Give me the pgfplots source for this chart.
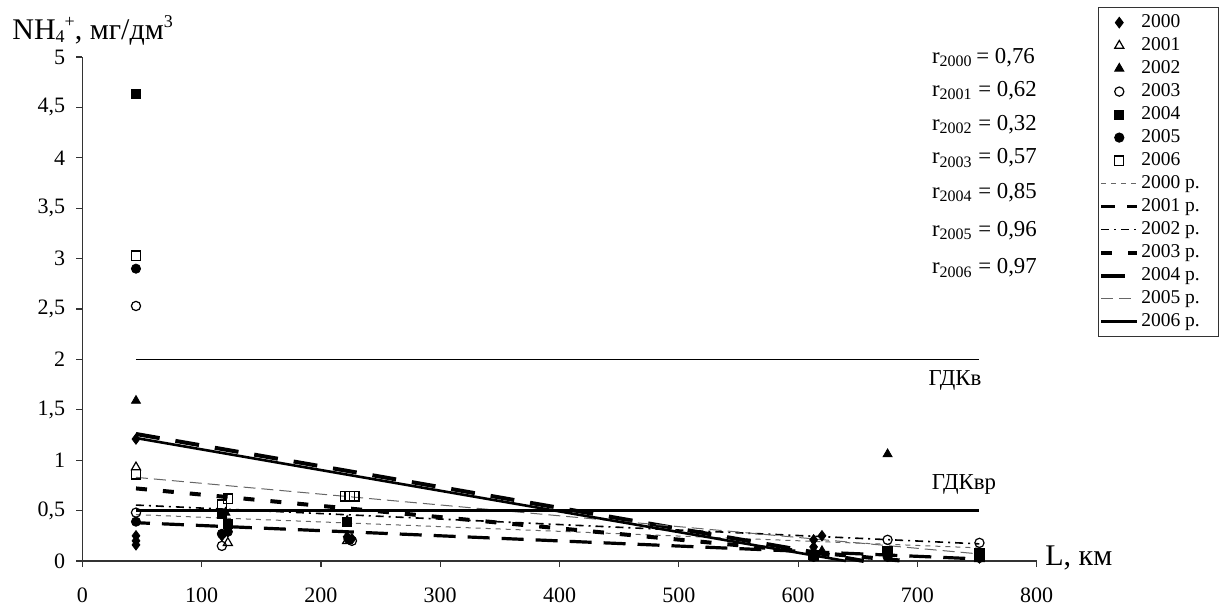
\documentclass[border=0pt]{standalone}
\usepackage{fontspec}
\setmainfont{Liberation Serif}
\usepackage{pgfplots}
\pgfplotsset{compat=1.18}
\newcommand{\lgt}[1]{\makebox[37pt][l]{#1}}
\begin{document}
\begin{tikzpicture}
\begin{axis}[name=ax, scale only axis, width=477.2pt, height=252pt,
 xmin=0, xmax=800, ymin=0, ymax=5,
 axis lines=left, axis line style={-, line width=0.6pt, black!80},
 xtick={0,100,200,300,400,500,600,700,800},
 ytick={0,0.5,1,1.5,2,2.5,3,3.5,4,4.5,5},
 tick align=outside, major tick length=3pt, tick style={black!80, line width=0.6pt},
 /pgf/number format/use comma, /pgf/number format/assume math mode=true,
 ticklabel style={font=\fontsize{11}{13}\selectfont},
 xticklabel style={yshift=-7pt}, yticklabel style={xshift=-2pt},
 clip=false,
 legend cell align=left,
 legend image code/.code={\draw[mark repeat=2,mark phase=2,#1] plot coordinates {(0pt,0pt)(9pt,0pt)(18pt,0pt)};},
 legend style={at={(rel axis cs:1.064,1.099)}, anchor=north west,
   draw=black!80, line width=0.5pt, font=\fontsize{9.75}{11}\selectfont,
   inner xsep=0.5pt, inner ysep=2pt, row sep=0.5pt,
   nodes={inner sep=1pt, text height=7pt, text depth=2pt}},
]
% --- data points ---
\addplot[only marks, mark=diamond*, mark size=2.6pt, mark options={fill=black, draw=black}]
 coordinates {(45,1.21)(45,0.25)(45,0.2)(45,0.16)(122,0.29)(117,0.25)(226,0.22)(222,0.24)(613,0.21)(620,0.25)(613,0.14)(675,0.05)(752,0.03)};
\addlegendentry{\lgt{2000}}
\addplot[only marks, mark=triangle, mark size=2.6pt, mark options={fill=white, draw=black, line width=0.6pt}]
 coordinates {(45,0.93)(122,0.18)(222,0.2)(613,0.1)(675,0.08)(752,0.02)};
\addlegendentry{\lgt{2001}}
\addplot[only marks, mark=triangle*, mark size=2.6pt, mark options={fill=black, draw=black}]
 coordinates {(45,1.59)(120,0.48)(222,0.4)(620,0.1)(675,1.06)(752,0.05)};
\addlegendentry{\lgt{2002}}
\addplot[only marks, mark=o, mark size=2.3pt, mark options={fill=white, draw=black, line width=0.6pt}]
 coordinates {(45,2.53)(45,0.48)(117,0.15)(226,0.2)(613,0.05)(675,0.21)(752,0.18)};
\addlegendentry{\lgt{2003}}
\addplot[only marks, mark=square*, mark size=2.3pt, mark options={fill=black, draw=black}]
 coordinates {(45,4.63)(117,0.47)(122,0.37)(222,0.39)(613,0.05)(675,0.09)(752,0.08)};
\addlegendentry{\lgt{2004}}
\addplot[only marks, mark=*, mark size=2.3pt, mark options={fill=black, draw=black}]
 coordinates {(45,2.9)(45,0.39)(117,0.27)(122,0.29)(223,0.22)(613,0.04)(675,0.04)(752,0.03)};
\addlegendentry{\lgt{2005}}
\addplot[only marks, mark=square, mark size=2.3pt, mark options={fill=white, draw=black, line width=0.6pt}]
 coordinates {(45,3.03)(45,0.86)(117,0.56)(122,0.62)(220,0.64)(224,0.645)(228,0.64)(613,0.06)(675,0.1)(752,0.04)};
\addlegendentry{\lgt{2006}}
% --- trend lines ---
\addplot[black!60, line width=0.5pt, dash pattern=on 2.5pt off 2.5pt] coordinates {(45,0.46)(752,0.13)};
\addlegendentry{\lgt{2000 р.}}
\addplot[black, line width=1.6pt, dash pattern=on 11pt off 6pt, dash phase=4pt] coordinates {(45,0.38)(752,0.02)};
\addlegendentry{\lgt{2001 р.}}
\addplot[black, line width=0.8pt, dash pattern=on 4pt off 2.5pt on 1pt off 2.5pt] coordinates {(45,0.555)(752,0.17)};
\addlegendentry{\lgt{2002 р.}}
\addplot[black, line width=2pt, dash pattern=on 5.5pt off 8pt] coordinates {(45,0.72)(690,0)};
\addlegendentry{\lgt{2003 р.}}
\addplot[black, line width=2pt, dash pattern=on 12pt off 8pt] coordinates {(45,1.26)(655,0)};
\addlegendentry{\lgt{2004 р.}}
\addplot[black!60, line width=0.5pt, dash pattern=on 6pt off 3pt] coordinates {(45,0.83)(752,0.07)};
\addlegendentry{\lgt{2005 р.}}
\addplot[black, line width=1.3pt] coordinates {(45,1.22)(640,0)};
\addlegendentry{\lgt{2006 р.}}
% --- limits ---
\addplot[forget plot, black, line width=0.6pt] coordinates {(45,2)(752,2)};
\addplot[forget plot, black, line width=1.8pt] coordinates {(45,0.5)(752,0.5)};
\node[font=\fontsize{11.4}{13}\selectfont] at (axis cs:731.5,1.79) {ГДКв};
\node[font=\fontsize{11.4}{13}\selectfont] at (axis cs:739,0.755) {ГДКвр};
% --- r labels ---
\node[anchor=base west, inner sep=0, font=\fontsize{11.4}{13}\selectfont] at (axis cs:712,4.94) {r\textsubscript{2000}\,= 0,76};
\node[anchor=base west, inner sep=0, font=\fontsize{11.4}{13}\selectfont] at (axis cs:712,4.61) {r\textsubscript{2001} = 0,62};
\node[anchor=base west, inner sep=0, font=\fontsize{11.4}{13}\selectfont] at (axis cs:712,4.27) {r\textsubscript{2002} = 0,32};
\node[anchor=base west, inner sep=0, font=\fontsize{11.4}{13}\selectfont] at (axis cs:712,3.94) {r\textsubscript{2003} = 0,57};
\node[anchor=base west, inner sep=0, font=\fontsize{11.4}{13}\selectfont] at (axis cs:712,3.60) {r\textsubscript{2004} = 0,85};
\node[anchor=base west, inner sep=0, font=\fontsize{11.4}{13}\selectfont] at (axis cs:712,3.22) {r\textsubscript{2005} = 0,96};
\node[anchor=base west, inner sep=0, font=\fontsize{11.4}{13}\selectfont] at (axis cs:712,2.85) {r\textsubscript{2006} = 0,97};
\end{axis}
\node[anchor=base west, inner sep=0, font=\fontsize{15}{17}\selectfont] at ([xshift=-35.15pt, yshift=8.5pt]ax.north west) {NH\raisebox{-0.2ex}{\fontsize{9}{10}\selectfont 4}\raisebox{0.9ex}{\fontsize{9}{10}\selectfont +}, мг/дм\raisebox{0.9ex}{\fontsize{9}{10}\selectfont 3}};
\node[anchor=base west, inner sep=0, font=\fontsize{15}{17}\selectfont] at ([xshift=4.15pt, yshift=-2pt]ax.south east) {L, км};
\path (ax.south west) ++(-41.15pt,-20.5pt) rectangle ++(609.5pt,301pt);
\end{tikzpicture}
\end{document}
